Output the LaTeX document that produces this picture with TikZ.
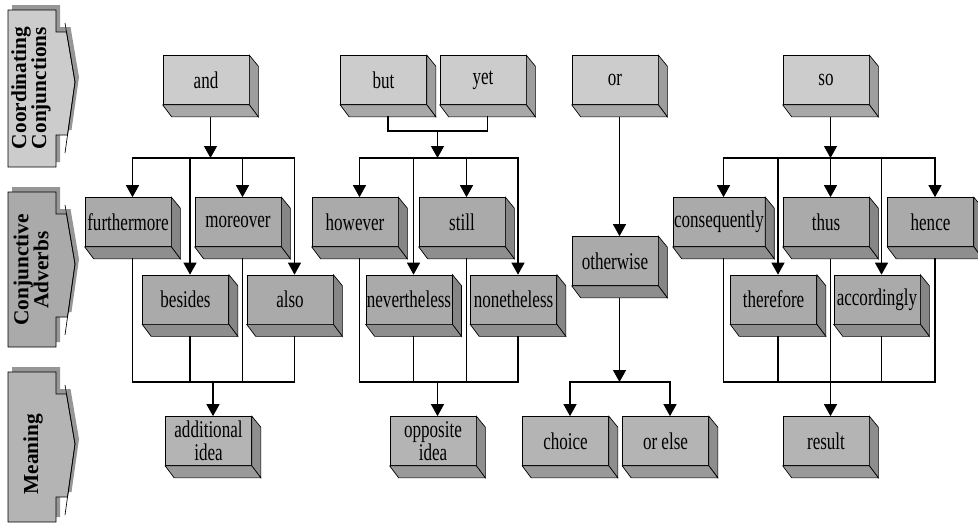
\documentclass[tikz,border=0pt]{standalone}
\usepackage{fontspec}
\setmainfont{Liberation Serif}[FakeStretch=0.71]
\newfontfamily\bannerfont{Liberation Serif}
\usetikzlibrary{arrows.meta}
\definecolor{CCf}{RGB}{204,204,204}
\definecolor{CCs}{RGB}{158,158,158}
\definecolor{CCb}{RGB}{168,168,168}
\definecolor{CAf}{RGB}{170,170,170}
\definecolor{CAs}{RGB}{134,134,134}
\definecolor{CAb}{RGB}{142,142,142}
\definecolor{MNf}{RGB}{180,180,180}
\definecolor{MNs}{RGB}{142,142,142}
\definecolor{MNb}{RGB}{154,154,154}
\definecolor{BNsh}{RGB}{150,150,150}
\tikzset{
  % front face of a word box
  conj/.style={
    draw=black, line width=0.5pt, fill=CCf,
    minimum width=64.5pt, minimum height=36.75pt,
    inner sep=0.75pt, align=center,
    font=\fontsize{18}{17.5}\selectfont
  },
  advb/.style={conj, fill=CAf},
  mean/.style={conj, fill=MNf},
  % connectors
  link/.style={line width=0.9pt, line cap=rect},
  arr/.style={line width=0.9pt, -{Triangle[width=9.75pt,length=9pt]}},
  % side banners
  banner/.style={draw=black, line width=0.5pt},
  bannertext/.style={
    rotate=90, align=center, inner sep=0pt,
    font=\bannerfont\bfseries\fontsize{16}{15}\selectfont
  },
}

\begin{document}
\begin{tikzpicture}[x=0.75pt, y=-0.75pt]
\useasboundingbox (0,0) rectangle (978,526);

% -- Side banners --------------------------------------------------------
\foreach \t/\b/\c in {10/167/CCf, 192/347/CAf, 372/522/MNf} {
  \fill[BNsh, shift={(4,-5)}] (8,\t) -- (56,\t) -- (56,\t+22) -- (66.5,\t+22)
    -- (75,\t+72) -- (67.5,\t+125) -- (56,\t+125) -- (56,\b) -- (8,\b) -- cycle;
  \filldraw[banner, fill=\c] (8,\t) -- (56,\t) -- (56,\t+22) -- (66.5,\t+22)
    -- (75,\t+72) -- (67.5,\t+125) -- (56,\t+125) -- (56,\b) -- (8,\b) -- cycle;
  \draw[banner] (65,\t+13) -- (75,\t+72) -- (65,\t+143);
}
\node[bannertext] (lab1) at (31,88) {Coordinating\\Conjunctions};
\node[bannertext] (lab2) at (31,270) {Conjunctive\\Adverbs};
\node[bannertext] (lab3) at (33,454) {Meaning};

% -- Coordinating conjunctions ---------------------------------------------
\node[conj] (and) at (206,80) {and};
\node[conj] (but) at (383.5,80) {but};
\node[conj] (yet) at (483,80) {yet};
\node[conj] (or) at (615,80) {or};
\node[conj] (so) at (826,80) {so};

% -- Conjunctive adverbs ----------------------------------------------------
\node[advb] (furthermore) at (128,222) {furthermore};
\node[advb] (moreover) at (238,222) {moreover};
\node[advb] (however) at (355,222) {however};
\node[advb] (still) at (462,222) {still};
\node[advb] (consequently) at (719,222) {consequently};
\node[advb] (thus) at (826,222) {thus};
\node[advb] (hence) at (930.5,222) {hence};
\node[advb] (besides) at (185.5,299.5) {besides};
\node[advb] (also) at (290,299.5) {also};
\node[advb] (nevertheless) at (409,299.5) {nevertheless};
\node[advb] (nonetheless) at (513.5,299.5) {nonetheless};
\node[advb] (otherwise) at (615,261) {otherwise};
\node[advb] (therefore) at (773.5,299.5) {therefore};
\node[advb] (accordingly) at (877,299.5) {accordingly};

% -- Meaning ------------------------------------------------------------------
\node[mean] (additional) at (208.5,441) {additional\\idea};
\node[mean] (opposite) at (433,441) {opposite\\idea};
\node[mean] (choice) at (565.5,441) {choice};
\node[mean] (orelse) at (665.5,441) {or else};
\node[mean] (result) at (826,441) {result};

% -- 3D faces, and in/out points of each box ---------------------------------
\foreach \n/\s/\d in {and/CCs/CCb, but/CCs/CCb, yet/CCs/CCb, or/CCs/CCb, so/CCs/CCb,
    furthermore/CAs/CAb, moreover/CAs/CAb, however/CAs/CAb, still/CAs/CAb,
    consequently/CAs/CAb, thus/CAs/CAb, hence/CAs/CAb, besides/CAs/CAb,
    also/CAs/CAb, nevertheless/CAs/CAb, nonetheless/CAs/CAb, otherwise/CAs/CAb,
    therefore/CAs/CAb, accordingly/CAs/CAb,
    additional/MNs/MNb, opposite/MNs/MNb, choice/MNs/MNb, orelse/MNs/MNb, result/MNs/MNb} {
  \filldraw[fill=\s, line width=0.5pt] (\n.north east) -- ++(9,11)
    -- ([shift={(9,12)}]\n.south east) -- (\n.south east) -- cycle;
  \filldraw[fill=\d, line width=0.5pt] (\n.south west) -- (\n.south east)
    -- ++(9,12) -- ([shift={(9,12)}]\n.south west) -- cycle;
  \coordinate (\n-in) at ([xshift=3.375pt]\n.north);
  \coordinate (\n-out) at ([shift={(4.5,12)}]\n.south);
}

% -- Bus lines ----------------------------------------------------------------
\coordinate (byjoin) at (0,131);
\coordinate (topbus) at (0,158);
\coordinate (botbus) at (0,382);

% and
\draw[arr] (and-out) -- (and-out |- topbus);
\draw[link] (furthermore-in |- topbus) -- (also-in |- topbus);
\foreach \n in {furthermore,besides,moreover,also} {
  \draw[arr] (\n-in |- topbus) -- (\n-in);
  \draw[link] (\n-out) -- (\n-out |- botbus);
}
\draw[link] (furthermore-out |- botbus) -- (also-out |- botbus);
\draw[arr] (additional-in |- botbus) -- (additional-in);

% but / yet
\draw[link] (but-out) |- (yet-out |- byjoin) -- (yet-out);
\draw[arr] (opposite-in |- byjoin) -- (opposite-in |- topbus);
\draw[link] (however-in |- topbus) -- (nonetheless-in |- topbus);
\foreach \n in {however,nevertheless,still,nonetheless} {
  \draw[arr] (\n-in |- topbus) -- (\n-in);
  \draw[link] (\n-out) -- (\n-out |- botbus);
}
\draw[link] (however-out |- botbus) -- (nonetheless-out |- botbus);
\draw[arr] (opposite-in |- botbus) -- (opposite-in);

% or
\draw[arr] (or-out) -- (otherwise-in);
\draw[arr] (otherwise-out) -- (otherwise-out |- botbus);
\draw[link] (choice-in |- botbus) -- (orelse-in |- botbus);
\draw[arr] (choice-in |- botbus) -- (choice-in);
\draw[arr] (orelse-in |- botbus) -- (orelse-in);

% so
\draw[arr] (so-out) -- (so-out |- topbus);
\draw[link] (consequently-in |- topbus) -- (hence-in |- topbus);
\foreach \n in {consequently,therefore,thus,accordingly,hence}
  \draw[arr] (\n-in |- topbus) -- (\n-in);
\foreach \n in {consequently,therefore,accordingly,hence}
  \draw[link] (\n-out) -- (\n-out |- botbus);
\draw[link] (consequently-out |- botbus) -- (hence-out |- botbus);
\draw[arr] (thus-out) -- (result-in);

\end{tikzpicture}
\end{document}
